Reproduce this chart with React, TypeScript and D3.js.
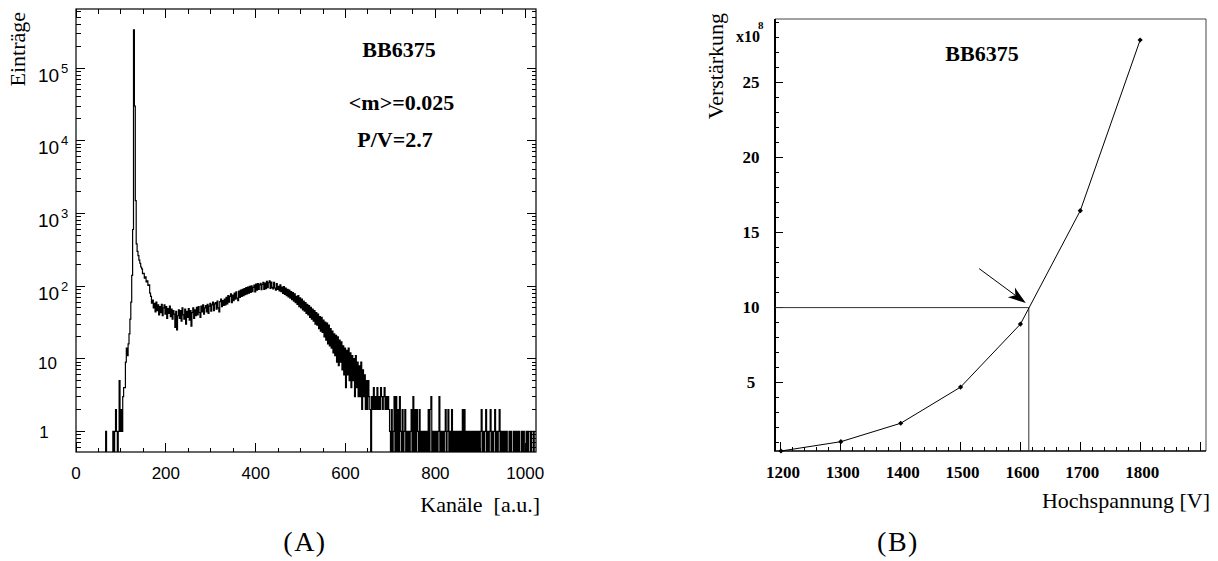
import React from 'react';
import * as d3 from 'd3';

// ---------------- Panel A : pulse-height spectrum (counts per channel) ----------------
const histStartChannel = 60;
const binWidth = 2;
// ch 60 .. 126
const countsRise = [0, 0, 0, 1, 0, 0, 0, 0, 0, 0, 0, 1, 0, 1, 2, 1, 0, 1, 5, 1, 2, 1, 3, 4, 4, 9, 14, 11, 16, 22, 35, 60, 140, 600];
// ch 128 .. 168
const countsPeak = [335000, 30000, 1500, 380, 300, 262, 228, 206, 183, 172, 148, 150, 128, 134, 114, 118, 102, 104, 80, 72, 58];
// ch 170 .. 328
const countsValley = [
  64, 50, 58, 44, 60, 46, 55, 40, 52, 43,
  56, 39, 50, 55, 41, 52, 36, 49, 42, 53,
  38, 48, 35, 46, 41, 27, 45, 25, 39, 47,
  36, 46, 33, 50, 40, 35, 48, 30, 45, 37,
  49, 34, 46, 28, 43, 50, 36, 47, 39, 51,
  40, 52, 43, 37, 53, 44, 55, 41, 50, 54,
  44, 56, 42, 53, 58, 45, 55, 60, 46, 57,
  59, 48, 62, 50, 44, 61, 66, 52, 63, 54,
];
// ch 330 .. 488
const countsHump = [
  66, 55, 70, 57, 74, 60, 72, 78, 59, 75,
  63, 80, 66, 83, 68, 63, 85, 70, 88, 72,
  90, 74, 92, 76, 95, 78, 97, 80, 99, 82,
  101, 84, 96, 103, 83, 106, 88, 108, 90, 104,
  109, 89, 105, 112, 90, 110, 92, 116, 95, 111,
  118, 93, 113, 96, 91, 112, 94, 88, 108, 90,
  99, 86, 104, 84, 97, 79, 98, 77, 94, 74,
  90, 71, 88, 68, 84, 65, 81, 62, 78, 59,
];
// ch 490 .. 654
const countsFalloff = [
  72, 56, 74, 52, 69, 50, 66, 47, 62, 45,
  59, 42, 56, 40, 54, 37, 51, 35, 48, 33,
  46, 30, 43, 29, 41, 26, 38, 24, 37, 23,
  34, 20, 32, 18, 31, 16, 29, 15, 26, 14,
  24, 12, 22, 11, 21, 9, 20, 8, 18, 9,
  17, 7, 15, 6, 14, 4, 13, 6, 14, 5,
  12, 4, 11, 5, 10, 3, 11, 4, 9, 3,
  8, 3, 9, 2, 7, 3, 6, 2, 5, 2,
  5, 3, 2,
];
// ch 656 .. 1022
const countsTail = [
  0, 3, 2, 4, 2, 3, 2, 4, 2, 3,
  2, 4, 3, 2, 3, 4, 2, 3, 2, 3,
  2, 1, 0, 2, 0, 1, 3, 0, 3, 0,
  2, 0, 3, 1, 0, 2, 0, 1, 2, 0,
  1, 0, 1, 0, 1, 2, 0, 3, 0, 2,
  0, 2, 1, 0, 2, 0, 1, 0, 1, 0,
  1, 0, 1, 0, 2, 0, 2, 3, 0, 1,
  0, 1, 0, 1, 0, 1, 3, 0, 1, 0,
  1, 0, 1, 2, 0, 1, 2, 0, 1, 0,
  2, 0, 1, 0, 1, 0, 1, 0, 1, 0,
  1, 0, 2, 0, 2, 0, 1, 0, 1, 0,
  1, 0, 1, 0, 1, 0, 1, 0, 1, 0,
  1, 0, 1, 2, 0, 1, 0, 1, 2, 0,
  1, 0, 1, 2, 0, 1, 0, 1, 2, 0,
  1, 0, 1, 2, 0, 1, 0, 1, 0, 1,
  0, 1, 0, 0, 1, 0, 1, 0, 0, 1,
  0, 1, 0, 1, 0, 1, 0, 0, 1, 0,
  1, 0, 0, 1, 0, 1, 0, 0, 1, 0,
  0, 1, 0, 0,
];
const xTickLabelsA = [0, 200, 400, 600, 800, 1000];
const yDecadesA = [0, 1, 2, 3, 4, 5];
const statsA = ['BB6375', '<m>=0.025', 'P/V=2.7'];

// ---------------- Panel B : gain vs high voltage ----------------
const voltages = [1200, 1300, 1400, 1500, 1600, 1700, 1800];
const gains = [0.44, 1.06, 2.29, 4.7, 8.9, 16.46, 27.84]; // x10^8
const xTickLabelsB = [1200, 1300, 1400, 1500, 1600, 1700, 1800];
const yTickLabelsB = [5, 10, 15, 20, 25];
const workingVoltage = 1614;
const workingGain = 10;
const arrowStart = [1531, 12.6];
const arrowEnd = [1609, 10.3];

const SERIF = '"Liberation Serif", "Times New Roman", serif';
const SANS = '"Liberation Sans", Arial, sans-serif';

export default function App() {
  // ---- Panel A scales
  const A = { l: 76, r: 536, t: 9, b: 452 };
  const xA = d3.scaleLinear().domain([0, 1024]).range([A.l, A.r]);
  const yMinA = 0.52;
  const yA = d3.scaleLog().domain([yMinA, 6.5e5]).range([A.b, A.t]).clamp(true);

  const hist = [...countsRise, ...countsPeak, ...countsValley, ...countsHump, ...countsFalloff, ...countsTail];
  const pts: [number, number][] = [[xA(0), A.b + 2], [xA(histStartChannel), A.b + 2]];
  hist.forEach((v, i) => {
    const c0 = histStartChannel + i * binWidth;
    const y = v <= 0 ? A.b + 2 : yA(Math.max(v, yMinA));
    pts.push([xA(c0), y], [xA(c0 + binWidth), y]);
  });
  const histPath = d3.line()(pts) || '';

  const xMinorA = d3.range(0, 1025, 50);
  const logTicks: { v: number; major: boolean }[] = [];
  for (let d = -1; d <= 5; d++) {
    for (let k = 1; k <= 9; k++) {
      const v = k * Math.pow(10, d);
      if (v >= yMinA && v <= 6.5e5) logTicks.push({ v, major: k === 1 });
    }
  }

  // ---- Panel B scales
  const B = { l: 775, r: 1206, t: 19, b: 451 };
  const xB = d3.scaleLinear().domain([1190, 1910]).range([B.l, B.r]);
  const yB = d3.scaleLinear().domain([0.44, 29.24]).range([B.b, B.t]);
  const gainLine = d3.line<number>().x((_, i) => xB(voltages[i])).y((g) => yB(g))(gains) || '';
  const xMinorB = d3.range(1200, 1901, 20);
  const yMinorB = d3.range(1, 30, 1);

  const ax = xB(arrowStart[0]), ay = yB(arrowStart[1]);
  const tx = xB(arrowEnd[0]), ty = yB(arrowEnd[1]);
  const len = Math.hypot(tx - ax, ty - ay);
  const ux = (tx - ax) / len, uy = (ty - ay) / len;
  const nx = -uy, ny = ux;
  const HL = 18, HW = 6, NOTCH = 5;
  const head = [
    [tx, ty],
    [tx - HL * ux + HW * nx, ty - HL * uy + HW * ny],
    [tx - (HL - NOTCH) * ux, ty - (HL - NOTCH) * uy],
    [tx - HL * ux - HW * nx, ty - HL * uy - HW * ny],
  ].map((p) => p.join(',')).join(' ');

  return (
    <svg width={1218} height={561} style={{ position: 'absolute', left: 0, top: 0, background: '#fff' }}>
      <defs>
        <clipPath id="clipA">
          <rect x={A.l} y={A.t} width={A.r - A.l} height={A.b - A.t} />
        </clipPath>
      </defs>
      {/* ================= Panel A ================= */}
      <path d={histPath} fill="none" stroke="#000" strokeWidth={1.2} clipPath="url(#clipA)" />
      <rect x={A.l} y={A.t} width={A.r - A.l} height={A.b - A.t} fill="none" stroke="#000" strokeWidth={1.2} />
      <g stroke="#000" strokeWidth={1} shapeRendering="crispEdges">
        {xMinorA.map((c) => {
          const L = c % 200 === 0 ? 9 : 4.5;
          return (
            <g key={'xa' + c}>
              <line x1={xA(c)} x2={xA(c)} y1={A.b} y2={A.b - L} />
              <line x1={xA(c)} x2={xA(c)} y1={A.t} y2={A.t + L} />
            </g>
          );
        })}
        {logTicks.map((t, i) => {
          const L = t.major ? 9 : 4.5;
          return (
            <g key={'ya' + i}>
              <line x1={A.l} x2={A.l + L} y1={yA(t.v)} y2={yA(t.v)} />
              <line x1={A.r} x2={A.r - L} y1={yA(t.v)} y2={yA(t.v)} />
            </g>
          );
        })}
      </g>
      {xTickLabelsA.map((c) => (
        <text key={'xla' + c} x={xA(c)} y={479} textAnchor="middle" fontFamily={SANS} fontSize={17}>
          {c}
        </text>
      ))}
      {yDecadesA.map((d) => {
        const y = yA(Math.pow(10, d));
        if (d === 0)
          return (
            <text key="yd0" x={44} y={y + 6.5} textAnchor="middle" fontFamily={SANS} fontSize={17}>1</text>
          );
        if (d === 1)
          return (
            <text key="yd1" x={47.5} y={y + 10.5} textAnchor="middle" fontFamily={SANS} fontSize={17}>10</text>
          );
        return (
          <g key={'yd' + d}>
            <text x={38} y={y + 13.5} fontFamily={SANS} fontSize={19}>10</text>
            <text x={61} y={y + 4.5} fontFamily={SANS} fontSize={13}>{d}</text>
          </g>
        );
      })}
      <text transform="translate(25,12) rotate(-90)" textAnchor="end" fontFamily={SERIF} fontSize={22}>
        Einträge
      </text>
      <text x={540} y={512} textAnchor="end" fontFamily={SERIF} fontSize={22} style={{ whiteSpace: 'pre' }}>
        {'Kanäle  [a.u.]'}
      </text>
      <text x={399} y={57} textAnchor="middle" fontFamily={SERIF} fontWeight="bold" fontSize={22}>{statsA[0]}</text>
      <text x={401.5} y={110} textAnchor="middle" fontFamily={SERIF} fontWeight="bold" fontSize={22}>{statsA[1]}</text>
      <text x={395} y={147} textAnchor="middle" fontFamily={SERIF} fontWeight="bold" fontSize={22}>{statsA[2]}</text>
      <text x={305} y={551} textAnchor="middle" fontFamily={SERIF} fontSize={28} letterSpacing={1.5}>(A)</text>

      {/* ================= Panel B ================= */}
      <line x1={B.l} x2={B.r} y1={B.t} y2={B.t} stroke="#444" strokeWidth={1} />
      <line x1={B.r} x2={B.r} y1={B.t} y2={B.b} stroke="#444" strokeWidth={1} />
      <line x1={B.l} x2={B.l} y1={B.t} y2={B.b} stroke="#000" strokeWidth={2} />
      <line x1={B.l - 1} x2={B.r} y1={B.b} y2={B.b} stroke="#000" strokeWidth={1.6} />
      <g stroke="#000" strokeWidth={1} shapeRendering="crispEdges">
        {xMinorB.map((v) => {
          const L = v % 100 === 0 ? 9 : 4.5;
          return <line key={'xb' + v} x1={xB(v)} x2={xB(v)} y1={B.b} y2={B.b - L} />;
        })}
        {yMinorB.map((v) => {
          const L = v % 5 === 0 ? 8 : 4;
          return <line key={'yb' + v} x1={B.l} x2={B.l + L} y1={yB(v)} y2={yB(v)} />;
        })}
      </g>
      {/* working point lines */}
      <line x1={B.l} x2={xB(workingVoltage)} y1={yB(workingGain)} y2={yB(workingGain)} stroke="#333" strokeWidth={1} />
      <line x1={xB(workingVoltage)} x2={xB(workingVoltage)} y1={B.b} y2={yB(workingGain)} stroke="#333" strokeWidth={1} />
      <path d={gainLine} fill="none" stroke="#000" strokeWidth={1} />
      {voltages.map((v, i) => {
        const x = xB(v), y = yB(gains[i]);
        return (
          <polygon key={'m' + v} points={`${x - 2.6},${y} ${x},${y - 2.6} ${x + 2.6},${y} ${x},${y + 2.6}`} fill="#000" />
        );
      })}
      <line x1={ax} y1={ay} x2={tx - (HL - NOTCH) * ux} y2={ty - (HL - NOTCH) * uy} stroke="#000" strokeWidth={1} />
      <polygon points={head} fill="#000" />
      {xTickLabelsB.map((v) => (
        <text key={'xlb' + v} x={xB(v) + 2} y={478} textAnchor="middle" fontFamily={SERIF} fontWeight="bold" fontSize={17}>
          {v}
        </text>
      ))}
      {yTickLabelsB.map((v) => (
        <text key={'ylb' + v} x={751} y={yB(v) + 5.5} textAnchor="middle" fontFamily={SERIF} fontWeight="bold" fontSize={17}>
          {v}
        </text>
      ))}
      <text x={736} y={42} fontFamily={SERIF} fontWeight="bold" fontSize={16}>x10</text>
      <text x={758} y={29} fontFamily={SERIF} fontWeight="bold" fontSize={11}>8</text>
      <text transform="translate(723,13) rotate(-90)" textAnchor="end" fontFamily={SERIF} fontSize={22}>
        Verstärkung
      </text>
      <text x={1210} y={508} textAnchor="end" fontFamily={SERIF} fontSize={22}>Hochspannung [V]</text>
      <text x={982} y={61} textAnchor="middle" fontFamily={SERIF} fontWeight="bold" fontSize={22}>BB6375</text>
      <text x={898} y={551} textAnchor="middle" fontFamily={SERIF} fontSize={28} letterSpacing={1.5}>(B)</text>
    </svg>
  );
}
